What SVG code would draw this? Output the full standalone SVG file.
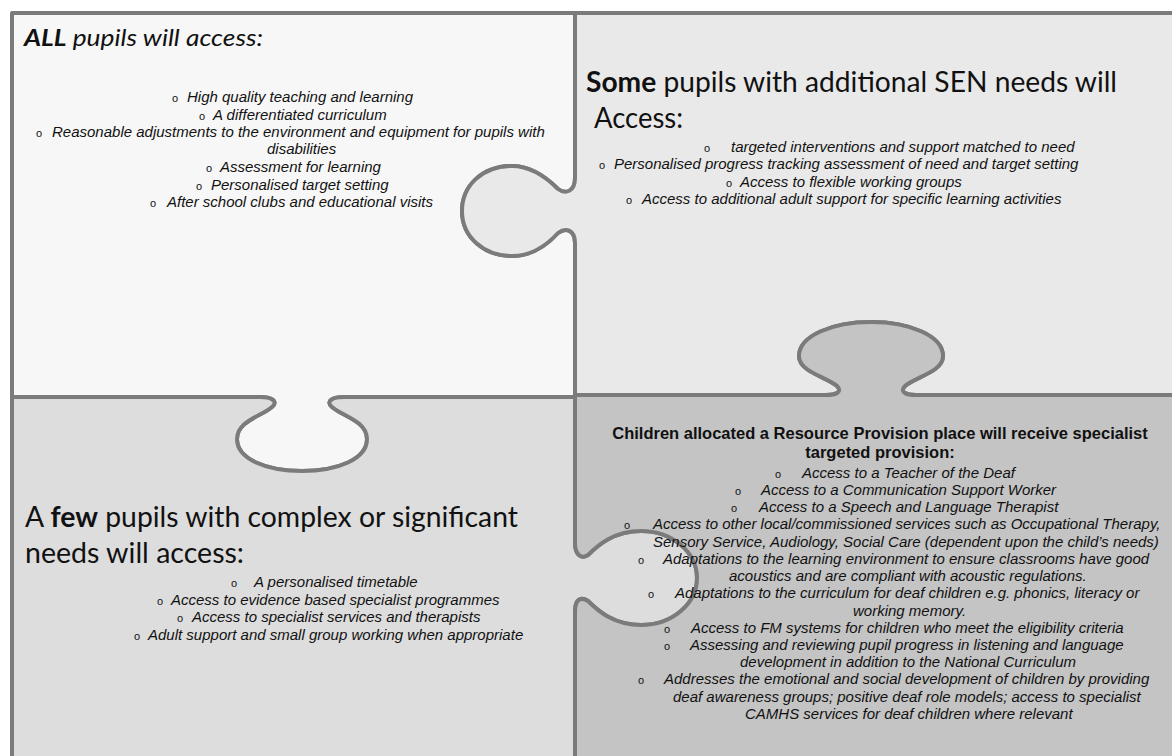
<svg xmlns="http://www.w3.org/2000/svg" width="1172" height="756" viewBox="0 0 1172 756">
<style>
.piece{stroke:#7b7b7b;stroke-width:4;stroke-linejoin:round}
.body{font-family:"Liberation Sans",Arial,sans-serif;font-size:15px;font-style:italic;fill:#111}
.bul{font-family:"Liberation Sans",Arial,sans-serif;font-size:11px;fill:#111}
.head{font-family:Lato,"Open Sans",sans-serif;fill:#111}
.title{font-family:"Liberation Sans",Arial,sans-serif;font-size:16.5px;font-weight:bold;fill:#111;text-anchor:middle}
</style>
<rect width="1172" height="756" fill="#ffffff"/>
<g id="all-pupils">
<path class="piece" fill="#f7f7f7" d="M12,13 L575,13 L575,178 C575,191 566,195 558,189 C548,179 532,166 512,166 C482,166 462,186 462,211 C462,237 484,256 512,256 C532,256 548,244 558,233 C566,227 575,230 575,243 L575,397 L344,397 C333,397 325,401 332,407 C342,416 367,421 367,439 C367,459 338,471 302,471 C266,471 237,459 237,439 C237,421 262,416 272,407 C279,401 271,397 260,397 L12,397 Z"/>
<text class="head" x="24" y="46" font-size="23" font-style="italic" textLength="239" lengthAdjust="spacingAndGlyphs"><tspan font-weight="bold">ALL</tspan> pupils will access:</text>
<text class="bul" x="172" y="102">o</text><text class="body" x="187" y="102">High quality teaching and learning</text>
<text class="bul" x="199" y="120">o</text><text class="body" x="213" y="120">A differentiated curriculum</text>
<text class="bul" x="36" y="137">o</text><text class="body" x="52" y="137">Reasonable adjustments to the environment and equipment for pupils with</text>
<text class="body" x="267" y="154">disabilities</text>
<text class="bul" x="206" y="172">o</text><text class="body" x="220" y="172">Assessment for learning</text>
<text class="bul" x="196" y="190">o</text><text class="body" x="211" y="190">Personalised target setting</text>
<text class="bul" x="150" y="207">o</text><text class="body" x="167" y="207">After school clubs and educational visits</text>
</g>
<g id="some-pupils">
<path class="piece" fill="#e9e9e9" d="M575,13 L1190,13 L1190,395 L916,395 C906,395 899,392 905,386 C915,377 943,372 943,356 C943,336 910,322 871,322 C832,322 799,336 799,356 C799,372 827,377 837,386 C843,392 836,395 826,395 L575,395 L575,243 C575,230 566,227 558,233 C548,244 532,256 512,256 C484,256 462,237 462,211 C462,186 482,166 512,166 C532,166 548,179 558,189 C566,195 575,191 575,178 L575,13 Z"/>
<text class="head" x="586" y="92" font-size="28" textLength="531" lengthAdjust="spacingAndGlyphs"><tspan font-weight="bold">Some</tspan> pupils with additional SEN needs will</text>
<text class="head" x="594" y="128" font-size="28" textLength="89" lengthAdjust="spacingAndGlyphs">Access:</text>
<text class="bul" x="704" y="152">o</text><text class="body" x="731" y="152">targeted interventions and support matched to need</text>
<text class="bul" x="599" y="169">o</text><text class="body" x="614" y="169">Personalised progress tracking assessment of need and target setting</text>
<text class="bul" x="726" y="187">o</text><text class="body" x="740" y="187">Access to flexible working groups</text>
<text class="bul" x="626" y="204">o</text><text class="body" x="642" y="204">Access to additional adult support for specific learning activities</text>
</g>
<g id="few-pupils">
<path class="piece" fill="#dddddd" d="M12,397 L260,397 C271,397 279,401 272,407 C262,416 237,421 237,439 C237,459 266,471 302,471 C338,471 367,459 367,439 C367,421 342,416 332,407 C325,401 333,397 344,397 L575,397 L575,543 C575,553 580,560 588,555 C598,545 614,531 641,531 C672,531 697,552 697,578 C697,604 672,625 641,625 C614,625 598,611 588,601 C580,596 575,600 575,612 L575,770 L12,770 Z"/>
<text class="head" x="25" y="527" font-size="28" textLength="493" lengthAdjust="spacingAndGlyphs">A <tspan font-weight="bold">few</tspan> pupils with complex or significant</text>
<text class="head" x="25" y="563" font-size="28" textLength="219" lengthAdjust="spacingAndGlyphs">needs will access:</text>
<text class="bul" x="231" y="587">o</text><text class="body" x="254" y="587">A personalised timetable</text>
<text class="bul" x="157" y="605">o</text><text class="body" x="171" y="605">Access to evidence based specialist programmes</text>
<text class="bul" x="177" y="622">o</text><text class="body" x="192" y="622">Access to specialist services and therapists</text>
<text class="bul" x="134" y="640">o</text><text class="body" x="148" y="640">Adult support and small group working when appropriate</text>
</g>
<g id="resource-provision">
<path class="piece" fill="#c4c4c4" d="M575,395 L826,395 C836,395 843,392 837,386 C827,377 799,372 799,356 C799,336 832,322 871,322 C910,322 943,336 943,356 C943,372 915,377 905,386 C899,392 906,395 916,395 L1190,395 L1190,770 L575,770 L575,612 C575,600 580,596 588,601 C598,611 614,625 641,625 C672,625 697,604 697,578 C697,552 672,531 641,531 C614,531 598,545 588,555 C580,560 575,553 575,543 L575,397 Z"/>
<text class="title" x="880" y="439">Children allocated a Resource Provision place will receive specialist</text>
<text class="title" x="880" y="458">targeted provision:</text>
<text class="bul" x="775" y="478">o</text><text class="body" x="802" y="478">Access to a Teacher of the Deaf</text>
<text class="bul" x="735" y="495">o</text><text class="body" x="761" y="495">Access to a Communication Support Worker</text>
<text class="bul" x="731" y="512">o</text><text class="body" x="759" y="512">Access to a Speech and Language Therapist</text>
<text class="bul" x="624" y="529">o</text><text class="body" x="653" y="529">Access to other local/commissioned services such as Occupational Therapy,</text>
<text class="body" x="653" y="547">Sensory Service, Audiology, Social Care (dependent upon the child’s needs)</text>
<text class="bul" x="638" y="564">o</text><text class="body" x="663" y="564">Adaptations to the learning environment to ensure classrooms have good</text>
<text class="body" x="729" y="581">acoustics and are compliant with acoustic regulations.</text>
<text class="bul" x="648" y="598">o</text><text class="body" x="675" y="598">Adaptations to the curriculum for deaf children e.g. phonics, literacy or</text>
<text class="body" x="853" y="616">working memory.</text>
<text class="bul" x="664" y="633">o</text><text class="body" x="691" y="633">Access to FM systems for children who meet the eligibility criteria</text>
<text class="bul" x="664" y="650">o</text><text class="body" x="690" y="650">Assessing and reviewing pupil progress in listening and language</text>
<text class="body" x="740" y="667">development in addition to the National Curriculum</text>
<text class="bul" x="638" y="684">o</text><text class="body" x="664" y="684">Addresses the emotional and social development of children by providing</text>
<text class="body" x="673" y="702">deaf awareness groups; positive deaf role models; access to specialist</text>
<text class="body" x="745" y="719">CAMHS services for deaf children where relevant</text>
</g>
<g id="connectors"></g>
</svg>
